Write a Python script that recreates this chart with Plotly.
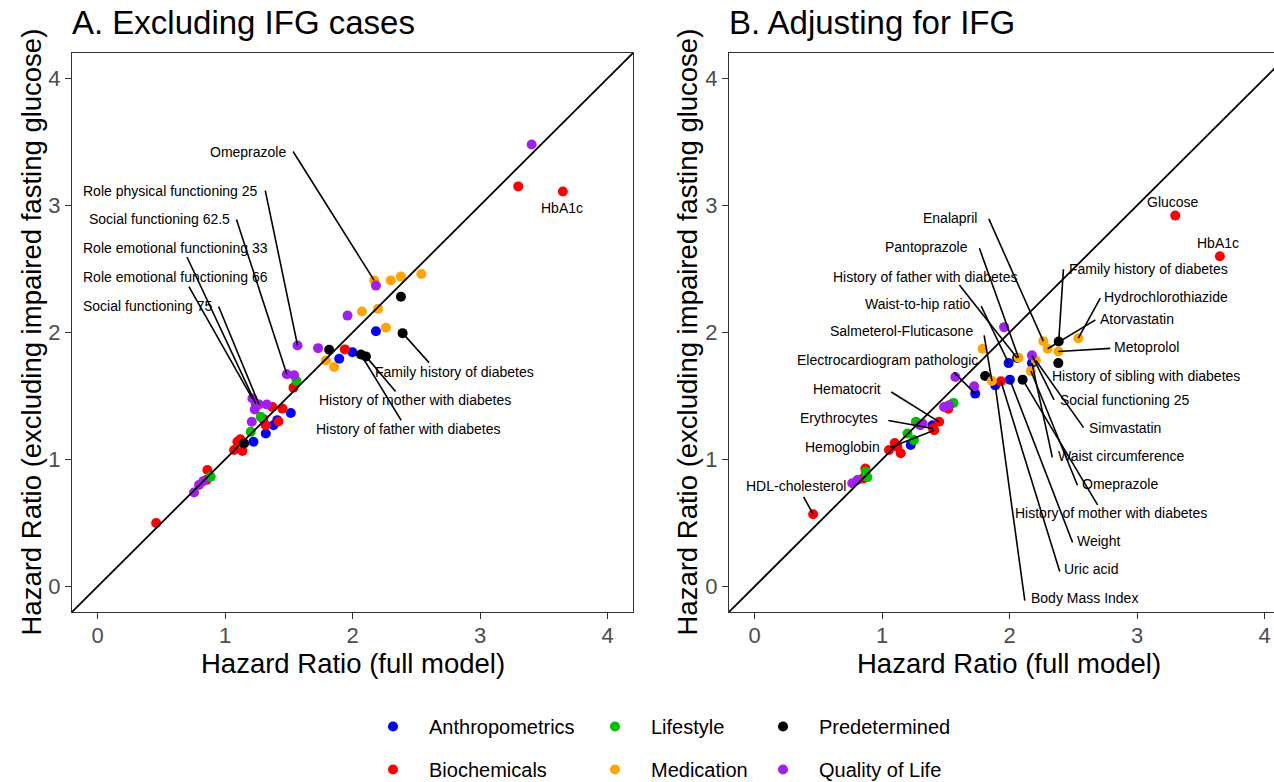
import plotly.graph_objects as go

# ---------------- categories / colours ----------------
GROUPS = ["Anthropometrics", "Biochemicals", "Lifestyle",
          "Medication", "Predetermined", "Quality of Life"]
COLORS = {"Anthropometrics": "#0000FF", "Biochemicals": "#FF0000",
          "Lifestyle": "#00C000", "Medication": "#FFA500",
          "Predetermined": "#000000", "Quality of Life": "#A020F0"}

# ---------------- Panel A: excluding IFG cases ----------------
A_group = (["Biochemicals"] * 16 + ["Anthropometrics"] * 8 + ["Lifestyle"] * 4
           + ["Medication"] * 9 + ["Predetermined"] * 6 + ["Quality of Life"] * 16)
A_full = [0.46, 0.856, 0.862, 1.071, 1.097, 1.137, 1.12, 1.32, 1.30, 1.372, 1.42, 1.451, 1.537, 1.94, 3.30, 3.65,
          1.223, 1.32, 1.38, 1.41, 1.516, 1.896, 2.00, 2.184,
          0.888, 1.202, 1.28, 1.561,
          1.791, 1.856, 2.074, 2.20, 2.262, 2.17, 2.30, 2.38, 2.54,
          1.15, 1.817, 2.066, 2.105, 2.393, 2.38,
          0.757, 0.796, 0.83, 1.215, 1.241, 1.267, 1.233, 1.328, 1.21, 1.485, 1.542, 1.569, 1.73, 1.961, 2.184, 3.405]
A_excl = [0.50, 0.84, 0.918, 1.075, 1.14, 1.067, 1.16, 1.27, 1.32, 1.414, 1.30, 1.401, 1.566, 1.867, 3.15, 3.11,
          1.14, 1.205, 1.27, 1.31, 1.367, 1.794, 1.845, 2.01,
          0.865, 1.218, 1.336, 1.618,
          1.78, 1.728, 2.165, 2.186, 2.037, 2.41, 2.41, 2.44, 2.46,
          1.127, 1.864, 1.827, 1.812, 1.995, 2.282,
          0.74, 0.80, 0.83, 1.48, 1.44, 1.433, 1.394, 1.433, 1.297, 1.671, 1.663, 1.898, 1.877, 2.133, 2.369, 3.48]
A_label = ([""] * 15 + ["HbA1c"]
           + [""] * 8
           + [""] * 4
           + ["", "", "", "", "", "Omeprazole", "", "", ""]
           + ["", "", "History of father with diabetes", "History of mother with diabetes",
              "Family history of diabetes", ""]
           + ["", "", "", "Role emotional functioning 66", "Role emotional functioning 33",
              "Social functioning 75", "", "", "", "Social functioning 62.5", "",
              "Role physical functioning 25", "", "", "", ""])

# label text position (x, y, anchor) and segment start (x, y) in data units
A_text_pos = {
    "Omeprazole": (1.493, 3.42, "right"),
    "Role physical functioning 25": (1.273, 3.114, "right"),
    "Social functioning 62.5": (1.053, 2.894, "right"),
    "Role emotional functioning 33": (-0.126, 2.667, "left"),
    "Role emotional functioning 66": (-0.126, 2.439, "left"),
    "Social functioning 75": (-0.126, 2.212, "left"),
    "HbA1c": (3.645, 2.98, "center"),
    "Family history of diabetes": (2.16, 1.686, "left"),
    "History of mother with diabetes": (1.72, 1.467, "left"),
    "History of father with diabetes": (1.697, 1.239, "left"),
}
A_seg_start = {
    "Omeprazole": (1.534, 3.425),
    "Role physical functioning 25": (1.316, 3.117),
    "Social functioning 62.5": (1.090, 2.889),
    "Role emotional functioning 33": (0.702, 2.594),
    "Role emotional functioning 66": (0.717, 2.361),
    "Social functioning 75": (0.950, 2.205),
    "Family history of diabetes": (2.60, 1.763),
    "History of mother with diabetes": (2.338, 1.536),
    "History of father with diabetes": (2.382, 1.308),
}

# ---------------- Panel B: adjusting for IFG ----------------
B_group = (["Biochemicals"] * 14 + ["Anthropometrics"] * 7 + ["Lifestyle"] * 6
           + ["Medication"] * 9 + ["Predetermined"] * 5 + ["Quality of Life"] * 10)
B_full = [0.46, 0.85, 0.87, 1.055, 1.121, 1.147, 1.10, 1.40, 1.41, 1.448, 1.933, 3.30, 3.65, 1.52,
          1.225, 1.396, 1.731, 1.888, 1.993, 2.003, 2.176,
          0.872, 0.885, 1.20, 1.251, 1.266, 1.561,
          1.789, 1.862, 2.071, 2.207, 2.168, 2.265, 2.299, 2.383, 2.54,
          1.809, 2.06, 2.103, 2.386, 2.383,
          0.767, 0.807, 1.30, 1.318, 1.487, 1.526, 1.575, 1.723, 1.958, 2.176]
B_excl = [0.57, 0.85, 0.93, 1.075, 1.10, 1.049, 1.13, 1.245, 1.231, 1.297, 1.616, 2.92, 2.60, 1.40,
          1.114, 1.27, 1.519, 1.584, 1.759, 1.629, 1.759,
          0.904, 0.86, 1.205, 1.153, 1.297, 1.446,
          1.872, 1.618, 1.801, 1.78, 1.697, 1.932, 1.872, 1.851, 1.955,
          1.657, 1.80, 1.629, 1.929, 1.759,
          0.813, 0.839, 1.27, 1.284, 1.414, 1.427, 1.65, 1.576, 2.042, 1.82]
B_label = (["HDL-cholesterol", "", "", "", "", "", "", "Erythrocytes", "Hemoglobin", "Hematocrit",
            "Uric acid", "Glucose", "HbA1c", ""]
           + ["", "", "Electrocardiogram pathologic", "Body Mass Index", "Waist-to-hip ratio",
              "Weight", "Waist circumference"]
           + [""] * 6
           + ["", "Salmeterol-Fluticasone", "Pantoprazole", "Simvastatin", "Omeprazole",
              "Enalapril", "Atorvastatin", "Metoprolol", "Hydrochlorothiazide"]
           + ["", "History of father with diabetes", "History of mother with diabetes",
              "Family history of diabetes", "History of sibling with diabetes"]
           + [""] * 9 + ["Social functioning 25"])

B_text_pos = {
    "Glucose": (3.284, 3.027, "center"),
    "HbA1c": (3.637, 2.706, "center"),
    "Enalapril": (1.76, 2.902, "right"),
    "Pantoprazole": (1.689, 2.675, "right"),
    "History of father with diabetes": (2.074, 2.439, "right"),
    "Waist-to-hip ratio": (1.712, 2.227, "right"),
    "Salmeterol-Fluticasone": (1.728, 2.008, "right"),
    "Electrocardiogram pathologic": (1.767, 1.78, "right"),
    "Hematocrit": (1.005, 1.553, "right"),
    "Erythrocytes": (0.982, 1.325, "right"),
    "Hemoglobin": (0.998, 1.098, "right"),
    "HDL-cholesterol": (0.731, 0.792, "right"),
    "Family history of diabetes": (2.451, 2.502, "left"),
    "Hydrochlorothiazide": (2.726, 2.282, "left"),
    "Atorvastatin": (2.694, 2.11, "left"),
    "Metoprolol": (2.804, 1.882, "left"),
    "History of sibling with diabetes": (2.317, 1.655, "left"),
    "Social functioning 25": (2.38, 1.467, "left"),
    "Simvastatin": (2.608, 1.247, "left"),
    "Waist circumference": (2.364, 1.027, "left"),
    "Omeprazole": (2.553, 0.808, "left"),
    "History of mother with diabetes": (2.027, 0.58, "left"),
    "Weight": (2.514, 0.361, "left"),
    "Uric acid": (2.412, 0.141, "left"),
    "Body Mass Index": (2.152, -0.086, "left"),
}
B_seg_start = {
    "HDL-cholesterol": (0.385, 0.706),
    "Hemoglobin": (1.064, 1.095),
    "Erythrocytes": (1.05, 1.307),
    "Hematocrit": (1.073, 1.532),
    "Electrocardiogram pathologic": (1.564, 1.687),
    "Salmeterol-Fluticasone": (1.801, 1.977),
    "Waist-to-hip ratio": (1.778, 2.208),
    "History of father with diabetes": (1.607, 2.373),
    "Pantoprazole": (1.764, 2.663),
    "Enalapril": (1.838, 2.894),
    "Family history of diabetes": (2.423, 2.498),
    "Hydrochlorothiazide": (2.712, 2.27),
    "Atorvastatin": (2.674, 2.099),
    "Metoprolol": (2.79, 1.875),
    "Social functioning 25": (2.35, 1.469),
    "Simvastatin": (2.581, 1.251),
    "Waist circumference": (2.336, 1.017),
    "Omeprazole": (2.533, 0.798),
    "History of mother with diabetes": (2.691, 0.643),
    "Weight": (2.495, 0.347),
    "Uric acid": (2.394, 0.119),
    "Body Mass Index": (2.12, -0.111),
}

LEGEND_OF = {"Anthropometrics": "legend", "Biochemicals": "legend",
             "Lifestyle": "legend2", "Medication": "legend2",
             "Predetermined": "legend3", "Quality of Life": "legend3"}

FONT = "Liberation Sans, Arial, sans-serif"
W, H = 1274, 782

fig = go.Figure()


def add_points(group, full, excl, xa, ya, show, order):
    for g in order:
        idx = [i for i, gg in enumerate(group) if gg == g]
        fig.add_trace(go.Scatter(
            x=[full[i] for i in idx], y=[excl[i] for i in idx],
            mode="markers", name=g, legendgroup=g, showlegend=show,
            legend=LEGEND_OF[g],
            marker=dict(color=COLORS[g], size=10, line=dict(width=0)),
            xaxis=xa, yaxis=ya, hoverinfo="skip"))


add_points(A_group, A_full, A_excl, "x", "y", True, GROUPS)
order_b = ["Predetermined", "Anthropometrics", "Biochemicals", "Lifestyle", "Medication", "Quality of Life"]
add_points(B_group, B_full, B_excl, "x2", "y2", False, order_b)

# identity lines
for xa, ya in (("x", "y"), ("x2", "y2")):
    fig.add_trace(go.Scatter(x=[-0.2, 4.2], y=[-0.2, 4.2], mode="lines",
                             line=dict(color="black", width=1.8), showlegend=False,
                             xaxis=xa, yaxis=ya, hoverinfo="skip"))

annotations = []
shapes = []


def add_labels(labels, full, excl, text_pos, seg_start, xr, yr):
    for lab, (tx, ty, anc) in text_pos.items():
        i = labels.index(lab)
        annotations.append(dict(x=tx, y=ty, xref=xr, yref=yr, text=lab, showarrow=False,
                                xanchor=anc, yanchor="middle",
                                font=dict(family=FONT, size=14, color="black")))
        if lab in seg_start:
            sx, sy = seg_start[lab]
            shapes.append(dict(type="line", xref=xr, yref=yr, x0=sx, y0=sy,
                               x1=full[i], y1=excl[i],
                               line=dict(color="black", width=1.6)))


add_labels(A_label, A_full, A_excl, A_text_pos, A_seg_start, "x", "y")
add_labels(B_label, B_full, B_excl, B_text_pos, B_seg_start, "x2", "y2")

# panel geometry (pixels)
A_L, A_R = 72, 633
B_L = 729
P_T, P_B = 53, 612
unit = (A_R - A_L) / 4.4
B_range_max = -0.2 + (W - B_L) / unit


def px_x(p):
    return p / W


def px_y(p):
    return 1 - p / H


# titles
for txt, x in (("A. Excluding IFG cases", A_L), ("B. Adjusting for IFG", B_L)):
    annotations.append(dict(x=px_x(x - 2), y=px_y(22), xref="paper", yref="paper", text=txt,
                            showarrow=False, xanchor="left", yanchor="middle",
                            font=dict(family=FONT, size=33, color="black")))
for cx in ((A_L + A_R) / 2, B_L + (A_R - A_L) / 2):
    annotations.append(dict(x=px_x(cx), y=px_y(663), xref="paper", yref="paper",
                            text="Hazard Ratio (full model)", showarrow=False,
                            xanchor="center", yanchor="middle",
                            font=dict(family=FONT, size=27.5, color="black")))
for cx in (31, 687):
    annotations.append(dict(x=px_x(cx), y=px_y((P_T + P_B) / 2), xref="paper", yref="paper",
                            text="Hazard Ratio (excluding impaired fasting glucose)",
                            showarrow=False, textangle=-90, xanchor="center", yanchor="middle",
                            font=dict(family=FONT, size=27.5, color="black")))

axis_common = dict(showgrid=False, zeroline=False, showline=True, linecolor="#333333",
                   linewidth=1.2, ticks="outside", ticklen=6, tickcolor="#333333",
                   tickwidth=1.2, tickvals=[0, 1, 2, 3, 4],
                   tickfont=dict(family=FONT, size=22, color="#4D4D4D"))

fig.update_layout(
    width=W, height=H, margin=dict(l=0, r=0, t=0, b=0, autoexpand=False),
    paper_bgcolor="white", plot_bgcolor="white",
    font=dict(family=FONT),
    xaxis=dict(domain=[px_x(A_L), px_x(A_R)], range=[-0.2, 4.2], mirror=True,
               anchor="y", automargin=False, ticklabelstandoff=-3, **axis_common),
    yaxis=dict(domain=[px_y(P_B), px_y(P_T)], range=[-0.2, 4.2], mirror=True,
               anchor="x", automargin=False, **axis_common),
    xaxis2=dict(domain=[px_x(B_L), 1.0], range=[-0.2, B_range_max], mirror=True,
                anchor="y2", automargin=False, ticklabelstandoff=-3, **axis_common),
    yaxis2=dict(domain=[px_y(P_B), px_y(P_T)], range=[-0.2, 4.2], mirror=False,
                anchor="x2", automargin=False, **axis_common),
    annotations=annotations, shapes=shapes,
)

leg_common = dict(orientation="v", xanchor="left", yanchor="top",
                  font=dict(family=FONT, size=20, color="black"),
                  bgcolor="rgba(0,0,0,0)", tracegroupgap=14, itemwidth=62,
                  maxheight=400,
                  itemclick=False, itemdoubleclick=False)
fig.update_layout(
    legend=dict(x=px_x(393 - 36), y=px_y(707), **leg_common),
    legend2=dict(x=px_x(615 - 36), y=px_y(707), **leg_common),
    legend3=dict(x=px_x(783 - 36), y=px_y(707), **leg_common),
)

fig.write_html("out.html")
